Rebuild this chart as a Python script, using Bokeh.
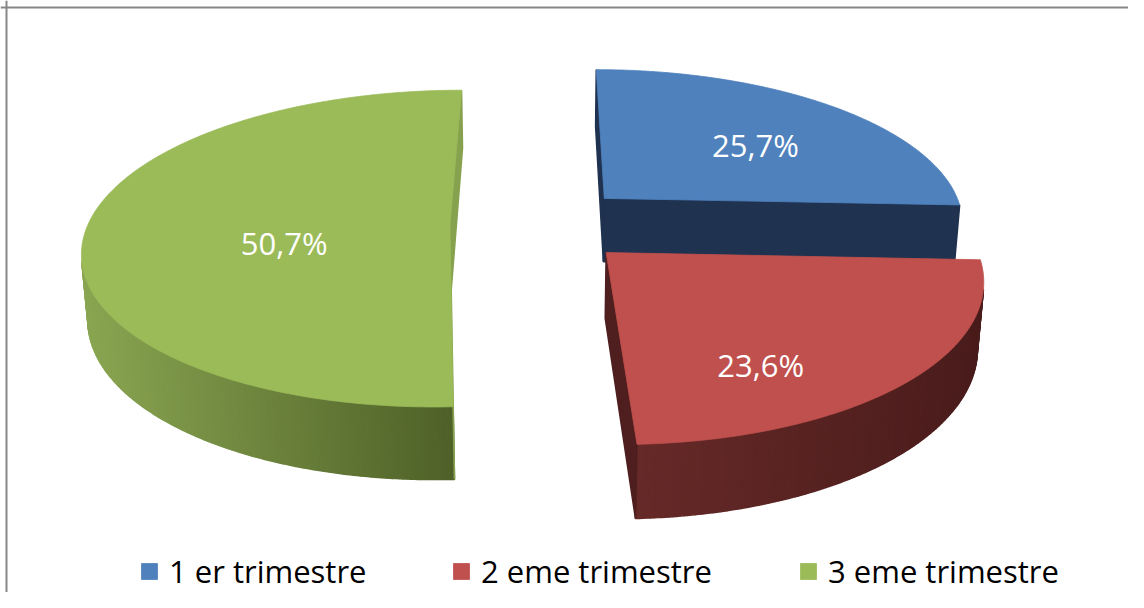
import numpy as np
from bokeh.plotting import figure
from bokeh.models import Range1d, Legend, LegendItem, Span
from bokeh.core.properties import value
from bokeh.embed import file_html
from bokeh.resources import INLINE

# ---------------- data ----------------
categories = ["1 er trimestre", "2 eme trimestre", "3 eme trimestre"]
shares = [25.7, 23.6, 50.7]
label_texts = ["25,7%", "23,6%", "50,7%"]

# ---------------- styles ----------------
TOP_COLORS = ["#4F81BD", "#C0504D", "#9BBB59"]
FACE_COLORS = ["#1F3250", "#4F1E1E", "#86A24F"]
SIDE_LIGHT = ["#2B4569", "#662A28", "#8AA652"]
SIDE_DARK = ["#1A2B44", "#4A1C1C", "#4F6128"]
FONT = "Open Sans"

# ---------------- 3D view (layout) ----------------
ELEV = np.radians(25.3)
DIST = 6.17
K = 362.0
CX, CY = 540.0, 224.0
THICK = 0.20
EXPLODE = 0.25
START = 90.0
LABEL_R = [0.60, 0.72, 0.46]
LABEL_DA = [-4.0, -15.0, 13.0]
CAM = np.array([0.0, DIST * np.sin(ELEV), -DIST * np.cos(ELEV)])


def project(X, Y, Z):
    X = np.asarray(X, float); Y = np.asarray(Y, float); Z = np.asarray(Z, float)
    yc = Y * np.cos(ELEV) + Z * np.sin(ELEV)
    zc = -Y * np.sin(ELEV) + Z * np.cos(ELEV) + DIST
    return CX + K * DIST * X / zc, CY - K * DIST * yc / zc


def lerp_color(c1, c2, f):
    a = [int(c1[i:i + 2], 16) for i in (1, 3, 5)]
    b = [int(c2[i:i + 2], 16) for i in (1, 3, 5)]
    return "#%02x%02x%02x" % tuple(int(round(a[k] + (b[k] - a[k]) * f)) for k in range(3))


def visible(normal, point):
    return float(np.dot(normal, CAM - point)) > 0


p = figure(width=1128, height=592, x_range=Range1d(0, 1128), y_range=Range1d(592, 0),
           output_backend="svg", toolbar_location=None, min_border=0,
           x_axis_location=None, y_axis_location=None, outline_line_color=None,
           background_fill_color="white", border_fill_color="white")
p.grid.visible = False

total = float(sum(shares))
slices = []
cum = 0.0
for i, v in enumerate(shares):
    a1 = START - cum / total * 360.0
    a0 = a1 - v / total * 360.0
    cum += v
    mid = np.radians((a0 + a1) / 2)
    slices.append(dict(i=i, a0=a0, a1=a1, ox=EXPLODE * np.cos(mid), oz=EXPLODE * np.sin(mid)))

top_renderers = {}
label_x, label_y = [], []
for s in sorted(slices, key=lambda d: -d["oz"]):
    i, a0, a1, ox, oz = s["i"], s["a0"], s["a1"], s["ox"], s["oz"]
    n = max(8, int(abs(a1 - a0) * 2))
    th = np.radians(np.linspace(a0, a1, n + 1))
    # curved outer side
    quads = []
    for j in range(n):
        t0, t1 = th[j], th[j + 1]
        tm = 0.5 * (t0 + t1)
        nrm = np.array([np.cos(tm), 0.0, np.sin(tm)])
        pt = np.array([ox + np.cos(tm), -THICK / 2, oz + np.sin(tm)])
        if visible(nrm, pt):
            X = [ox + np.cos(t0), ox + np.cos(t1), ox + np.cos(t1), ox + np.cos(t0)]
            Z = [oz + np.sin(t0), oz + np.sin(t1), oz + np.sin(t1), oz + np.sin(t0)]
            Y = [0, 0, -THICK, -THICK]
            sx, sy = project(X, Y, Z)
            quads.append((list(sx), list(sy)))
    xs, ys, cols = [], [], []
    if quads:
        centers = [np.mean(q[0]) for q in quads]
        lo, hi = min(centers), max(centers)
        for (qx, qy), c in zip(quads, centers):
            f = 0.0 if hi == lo else (c - lo) / (hi - lo)
            xs.append(qx); ys.append(qy); cols.append(lerp_color(SIDE_LIGHT[i], SIDE_DARK[i], f))
    # radial faces
    for a, sign in ((a1, 1), (a0, -1)):
        ar = np.radians(a)
        nrm = sign * np.array([-np.sin(ar), 0.0, np.cos(ar)])
        pt = np.array([ox + 0.5 * np.cos(ar), -THICK / 2, oz + 0.5 * np.sin(ar)])
        if visible(nrm, pt):
            X = [ox, ox + np.cos(ar), ox + np.cos(ar), ox]
            Z = [oz, oz + np.sin(ar), oz + np.sin(ar), oz]
            Y = [0, 0, -THICK, -THICK]
            sx, sy = project(X, Y, Z)
            xs.append(list(sx)); ys.append(list(sy)); cols.append(FACE_COLORS[i])
    if xs:
        p.patches(xs=xs, ys=ys, fill_color=cols, line_color=cols, line_width=1.6)
    # top face
    X = np.concatenate([[ox], ox + np.cos(th)])
    Z = np.concatenate([[oz], oz + np.sin(th)])
    sx, sy = project(X, np.zeros_like(X), Z)
    top_renderers[i] = p.patch(x=list(sx), y=list(sy), fill_color=TOP_COLORS[i],
                               line_color=TOP_COLORS[i], line_width=0.8)

# labels
for s in slices:
    i = s["i"]
    la = np.radians((s["a0"] + s["a1"]) / 2 + LABEL_DA[i])
    lx, ly = project(s["ox"] + LABEL_R[i] * np.cos(la), 0.0, s["oz"] + LABEL_R[i] * np.sin(la))
    label_x.append(float(lx)); label_y.append(float(ly))
p.text(x=label_x, y=label_y, text=label_texts, text_color="white",
       text_font=value(FONT), text_font_size="31px", text_align="center", text_baseline="middle")

# legend: three entries at bottom
LEG_X = [139, 451, 798]
for i, cat in enumerate(categories):
    lg = Legend(items=[LegendItem(label=cat, renderers=[top_renderers[i]])],
                location=(LEG_X[i], 0), orientation="horizontal",
                padding=0, margin=0, spacing=0, border_line_color=None,
                background_fill_alpha=0, label_standoff=10, glyph_width=20, glyph_height=20,
                label_text_font=FONT, label_text_font_size="31px", label_text_color="#000000",
                label_text_baseline="middle", label_text_line_height=1.0)
    p.add_layout(lg)

# chart area border (top and left)
p.add_layout(Span(location=7, dimension="width", line_color="#878787", line_width=2))
p.add_layout(Span(location=6, dimension="height", line_color="#878787", line_width=2))

open("out.html", "w").write(file_html(p, INLINE))
